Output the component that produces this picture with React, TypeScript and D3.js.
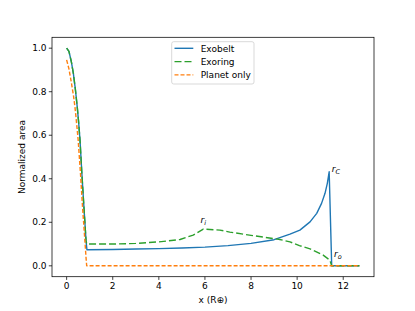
import React from "react";
import * as d3 from "d3";

const exobeltX = [0, 0.1, 0.2, 0.29, 0.38, 0.46, 0.52, 0.58, 0.66, 0.75, 0.84, 0.88, 2, 3, 4, 5, 6, 7, 8, 9, 9.69, 10.12, 10.56, 10.85, 11.06, 11.21, 11.31, 11.39, 11.5, 12.7];
const exobeltY = [1.0, 0.985, 0.94, 0.885, 0.81, 0.73, 0.66, 0.578, 0.425, 0.27, 0.118, 0.074, 0.075, 0.077, 0.079, 0.082, 0.086, 0.093, 0.103, 0.12, 0.146, 0.164, 0.202, 0.241, 0.287, 0.333, 0.379, 0.432, 0, 0];

const exoringX = [0, 0.1, 0.2, 0.29, 0.38, 0.46, 0.52, 0.58, 0.66, 0.75, 0.84, 0.87, 1, 2, 3, 4, 4.92, 5.49, 5.93, 6.65, 7.08, 8, 9.25, 9.69, 10.1, 10.56, 11.13, 11.42, 11.5, 12.7];
const exoringY = [1.0, 0.985, 0.94, 0.885, 0.81, 0.73, 0.66, 0.578, 0.425, 0.27, 0.118, 0.1, 0.1, 0.1, 0.103, 0.11, 0.121, 0.141, 0.169, 0.164, 0.155, 0.14, 0.121, 0.11, 0.093, 0.078, 0.049, 0.026, 0, 0];

const planetX = [0, 0.1, 0.2, 0.3, 0.36, 0.4, 0.5, 0.6, 0.69, 0.79, 0.84, 0.87, 12.72];
const planetY = [0.946, 0.905, 0.845, 0.78, 0.73, 0.69, 0.578, 0.425, 0.27, 0.118, 0.04, 0, 0];

const xTicks = [0, 2, 4, 6, 8, 10, 12];
const yTicks = [0.0, 0.2, 0.4, 0.6, 0.8, 1.0];
const legendLabels = ["Exobelt", "Exoring", "Planet only"];

const W = 415, H = 311;
const L = 52, R = 374, T = 37.3, B = 276.7;
const font = "DejaVu Sans, sans-serif";

export default function App() {
  const x = d3.scaleLinear().domain([-0.635, 13.335]).range([L, R]);
  const y = d3.scaleLinear().domain([-0.05, 1.05]).range([B, T]);
  const mk = (xs: number[], ys: number[]) =>
    d3.line<number>().x((_, i) => x(xs[i])).y((_, i) => y(ys[i]))(xs) || "";

  const series = [
    { d: mk(exobeltX, exobeltY), color: "#1f77b4", dash: "" },
    { d: mk(exoringX, exoringY), color: "#2ca02c", dash: "7,3" },
    { d: mk(planetX, planetY), color: "#ff7f0e", dash: "4,2" },
  ];

  const labels = [
    { xv: 11.5, yv: 0.431, sub: "C" },
    { xv: 5.81, yv: 0.198, sub: "i" },
    { xv: 11.6, yv: 0.04, sub: "o" },
  ];

  return (
    <svg width={W} height={H} style={{ display: "block", position: "absolute", left: 0, top: 0 }} fontFamily={font}>
      <rect x={0} y={0} width={W} height={H} fill="white" />
      <defs>
        <clipPath id="clip">
          <rect x={L} y={T} width={R - L} height={B - T} />
        </clipPath>
      </defs>
      <g clipPath="url(#clip)">
        {series.map((s, i) => (
          <path key={i} d={s.d} fill="none" stroke={s.color} strokeWidth={1.4} strokeDasharray={s.dash} strokeLinejoin="round" />
        ))}
      </g>
      {labels.map((l, i) => (
        <text key={i} x={x(l.xv)} y={y(l.yv)} fontSize={9} fontStyle="italic" fill="#000">
          r<tspan fontSize={6.5} dy={2}>{l.sub}</tspan>
        </text>
      ))}
      <rect x={L} y={T} width={R - L} height={B - T} fill="none" stroke="#000" strokeWidth={0.75} />
      {xTicks.map((t) => (
        <g key={t}>
          <line x1={x(t)} x2={x(t)} y1={B} y2={B + 3.2} stroke="#000" strokeWidth={0.75} />
          <text x={x(t)} y={B + 12.5} fontSize={9} textAnchor="middle" fill="#000">{t}</text>
        </g>
      ))}
      {yTicks.map((t) => (
        <g key={t}>
          <line x1={L - 3.2} x2={L} y1={y(t)} y2={y(t)} stroke="#000" strokeWidth={0.75} />
          <text x={L - 5.5} y={y(t) + 3.2} fontSize={9} textAnchor="end" fill="#000">{t.toFixed(1)}</text>
        </g>
      ))}
      <text x={(L + R) / 2} y={303} fontSize={9} textAnchor="middle" fill="#000">x (R⊕)</text>
      <text transform={`translate(24.5,${(T + B) / 2}) rotate(-90)`} fontSize={9} textAnchor="middle" fill="#000">Normalized area</text>
      <g>
        <rect x={171.7} y={41.7} width={82.3} height={42.3} rx={2} fill="white" fillOpacity={0.8} stroke="#ccc" strokeWidth={0.75} />
        {legendLabels.map((lab, i) => (
          <g key={lab}>
            <line x1={174.5} x2={193.3} y1={48.3 + i * 13.3} y2={48.3 + i * 13.3} stroke={series[i].color} strokeWidth={1.4} strokeDasharray={series[i].dash} />
            <text x={200.7} y={48.3 + i * 13.3 + 3.2} fontSize={9} fill="#000">{lab}</text>
          </g>
        ))}
      </g>
    </svg>
  );
}
